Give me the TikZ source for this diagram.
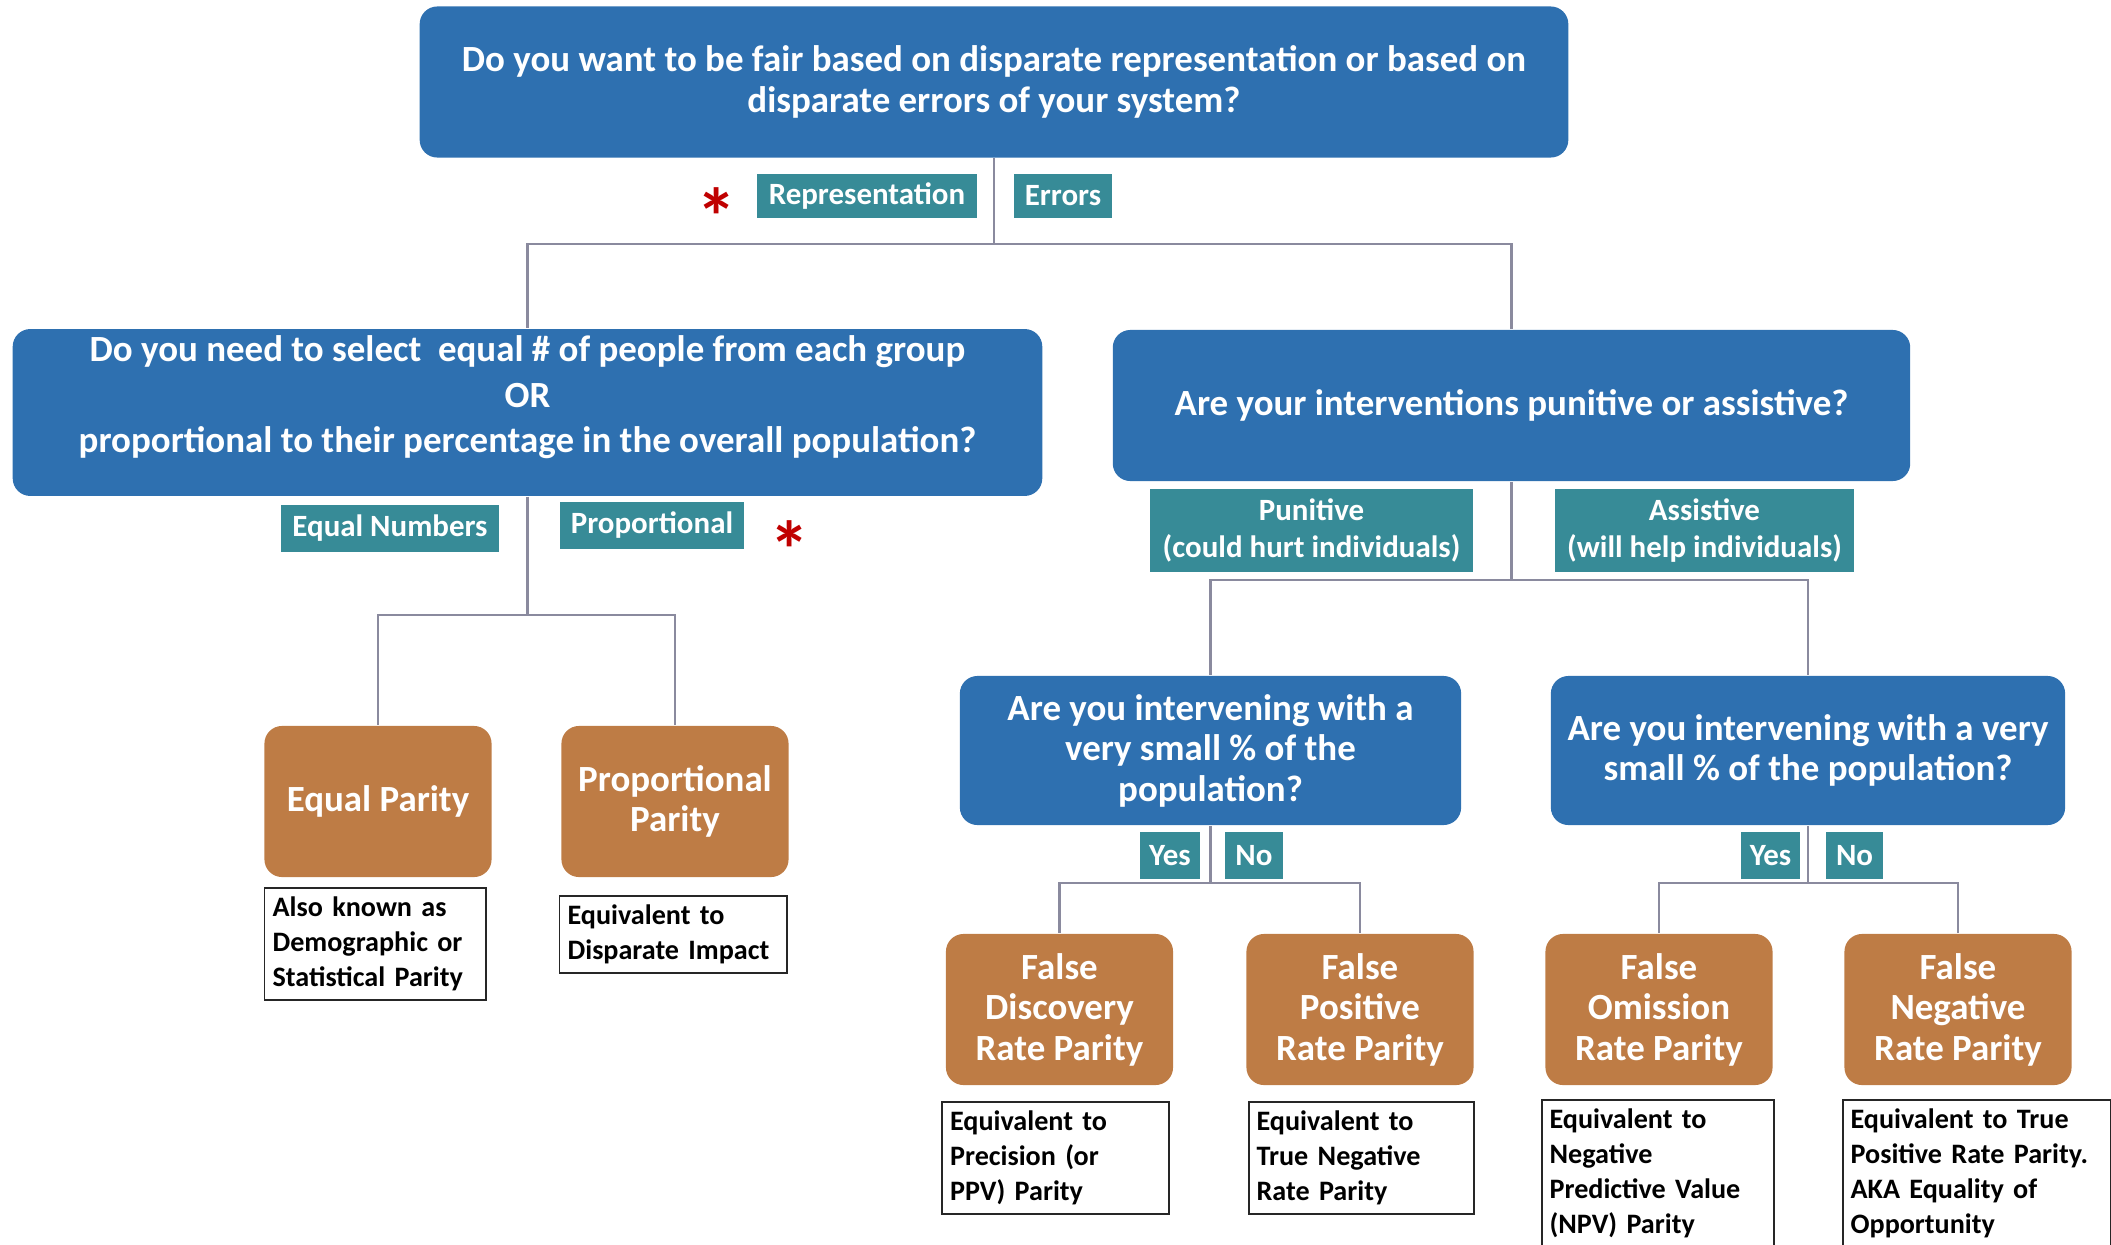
\documentclass[tikz,border=0pt]{standalone}
\usepackage{fontspec}
\setmainfont{Carlito}
\usetikzlibrary{positioning}

\definecolor{qblue}{HTML}{2E70B0}
\definecolor{ansteal}{HTML}{378B97}
\definecolor{parbrown}{HTML}{BE7C45}
\definecolor{linkgray}{HTML}{8A8A9E}
\definecolor{starred}{HTML}{C00000}

\begin{document}
\begin{tikzpicture}[
    x=0.01cm, y=-0.01cm,
    % Node styles
    question/.style={
        rectangle, rounded corners=5pt, fill=qblue, text=white,
        align=center, inner sep=2pt,
        font=\fontsize{10.5}{11.5}\selectfont\bfseries,
      },
    answer/.style={
        rectangle, fill=ansteal, text=white, align=center, inner sep=1pt,
        font=\fontsize{8.8}{10.7}\selectfont\bfseries,
      },
    parity/.style={
        rectangle, rounded corners=5pt, fill=parbrown, text=white,
        align=center, minimum width=2.27cm, minimum height=1.51cm,
        font=\fontsize{10.5}{11.5}\selectfont\bfseries,
      },
    note/.style={
        rectangle, draw=black!85, line width=0.5pt, fill=white,
        align=left, text width=#1, inner xsep=0.08cm, inner ysep=0.09cm,
        font=\fontsize{8}{10}\selectfont\bfseries,
      },
    redstar/.style={text=starred, font=\fontsize{23}{23}\selectfont\bfseries},
    % connector style
    link/.style={draw=linkgray, line width=0.6pt},
  ]
  \useasboundingbox (0,0) rectangle (2111,1245);

  % --- questions ---
  \node[question, minimum width=11.48cm, minimum height=1.51cm] (root) at (994,82)
  {Do you want to be fair based on disparate representation or based on\\disparate errors of your system?};
  \node[question, minimum width=10.29cm, minimum height=1.65cm, text depth=10.5pt,
    font=\fontsize{10.5}{12.8}\selectfont\bfseries] (qnum) at (527.5,412.5)
  {Do you need to select\ \ equal \# of people from each group\\OR\\proportional to their percentage in the overall population?};
  \node[question, minimum width=7.97cm, minimum height=1.51cm] (qerr) at (1511.5,405.5)
  {Are your interventions punitive or assistive?};
  \node[question, minimum width=5.01cm, minimum height=1.49cm] (qpun) at (1210.5,750.5)
  {Are you intervening with a\\very small \% of the\\population?};
  \node[question, minimum width=5.14cm, minimum height=1.49cm] (qass) at (1808,750.5)
  {Are you intervening with a very\\small \% of the population?};

  % --- answers ---
  \node[answer, minimum width=2.20cm, minimum height=0.44cm] (arep) at (867,196) {Representation};
  \node[answer, minimum width=0.98cm, minimum height=0.44cm] (aerr) at (1063,196) {Errors};
  \node[answer, minimum width=2.18cm, minimum height=0.47cm] (aeq) at (390,528.5) {Equal Numbers};
  \node[answer, minimum width=1.84cm, minimum height=0.47cm] (aprop) at (652,525.5) {Proportional};
  \node[answer, minimum width=3.23cm, minimum height=0.83cm] (apun) at (1311.5,530.5) {Punitive\\(could hurt individuals)};
  \node[answer, minimum width=2.99cm, minimum height=0.83cm] (aass) at (1704.5,530.5) {Assistive\\(will help individuals)};
  \node[answer, minimum width=0.60cm, minimum height=0.47cm] (ayes1) at (1170,855.5) {Yes};
  \node[answer, minimum width=0.58cm, minimum height=0.47cm] (ano1) at (1254,855.5) {No};
  \node[answer, minimum width=0.59cm, minimum height=0.47cm] (ayes2) at (1770.5,855.5) {Yes};
  \node[answer, minimum width=0.57cm, minimum height=0.47cm] (ano2) at (1854.5,855.5) {No};

  \node[redstar] (star1) at (717,217) {*};
  \node[redstar] (star2) at (790,550) {*};

  % --- parity measures ---
  \node[parity] (eqp) at (378,801.5) {Equal Parity};
  \node[parity] (ppp) at (675,801.5) {Proportional\\Parity};
  \node[parity] (fdrp) at (1059.5,1009.5) {False\\Discovery\\Rate Parity};
  \node[parity] (fprp) at (1360,1009.5) {False\\Positive\\Rate Parity};
  \node[parity] (forp) at (1659,1009.5) {False\\Omission\\Rate Parity};
  \node[parity] (fnrp) at (1958,1009.5) {False\\Negative\\Rate Parity};

  % --- notes under the measures ---
  \node[note=2.05cm, below=0.09cm of eqp.south west, anchor=north west] (neqp)
  {Also known as\\Demographic or\\Statistical Parity};
  \node[note=2.11cm, below=0.17cm of ppp.south west, anchor=north west, xshift=-0.02cm] (nppp)
  {Equivalent to\\Disparate Impact};
  \node[note=2.11cm, below=0.15cm of fdrp.south west, anchor=north west, xshift=-0.04cm] (nfdr)
  {Equivalent to\\Precision (or\\PPV) Parity};
  \node[note=2.09cm, below=0.15cm of fprp.south west, anchor=north west, xshift=0.02cm] (nfpr)
  {Equivalent to\\True Negative\\Rate Parity};
  \node[note=2.16cm, below=0.13cm of forp.south west, anchor=north west, xshift=-0.04cm] (nfor)
  {Equivalent to\\Negative\\Predictive Value\\(NPV) Parity};
  \node[note=2.52cm, below=0.13cm of fnrp.south west, anchor=north west, xshift=-0.02cm] (nfnr)
  {Equivalent to True\\Positive Rate Parity.\\AKA Equality of\\Opportunity};

  % --- connectors ---
  \draw[link] (root.south) -- ++(0,86) coordinate (jroot);
  \draw[link] (jroot) -| (qnum.north);
  \draw[link] (jroot) -| (qerr.north);

  \draw[link] (qnum.south) -- ++(0,118) coordinate (jnum);
  \draw[link] (jnum) -| (eqp.north);
  \draw[link] (jnum) -| (ppp.north);

  \draw[link] (qerr.south) -- ++(0,98) coordinate (jerr);
  \draw[link] (jerr) -| (qpun.north);
  \draw[link] (jerr) -| (qass.north);

  \draw[link] (qpun.south) -- ++(0,57) coordinate (jpun);
  \draw[link] (jpun) -| (fdrp.north);
  \draw[link] (jpun) -| (fprp.north);

  \draw[link] (qass.south) -- ++(0,57) coordinate (jass);
  \draw[link] (jass) -| (forp.north);
  \draw[link] (jass) -| (fnrp.north);
\end{tikzpicture}
\end{document}
